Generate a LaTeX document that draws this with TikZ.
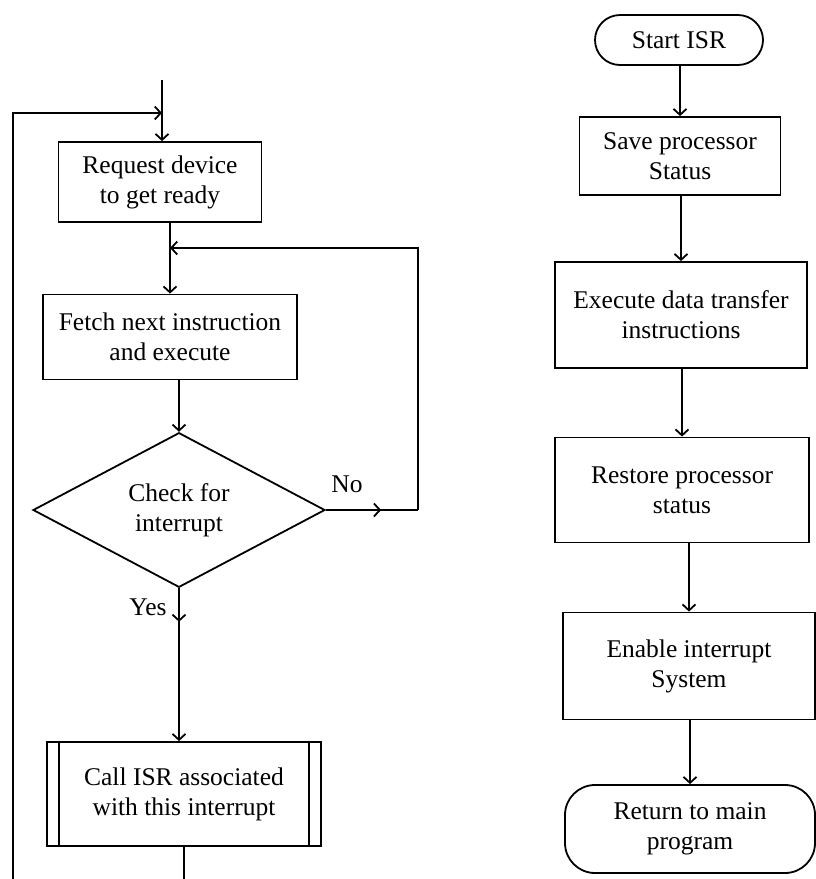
\documentclass[tikz,border=0pt]{standalone}
\usepackage{fontspec}
\setmainfont{Liberation Serif}
\usetikzlibrary{arrows.meta,shapes.geometric,decorations.markings}
\tikzset{
    box/.style={draw, line width=1.8pt, align=center, inner sep=2pt},
    flow/.style={line width=1.8pt, -{Straight Barb[length=6pt,width=13pt]}},
    midflow/.style={line width=1.8pt, postaction={decorate},
        decoration={markings, mark=at position #1 with {\arrow{Straight Barb[length=6pt,width=13pt]}}}},
}
\begin{document}
\begin{tikzpicture}[x=1pt, y=-1pt, font=\fontsize{25.5}{30}\selectfont]
        \useasboundingbox (0,0) rectangle (816,879);
        % polling loop
        \node[box, minimum width=203pt, minimum height=80pt] (req) at (160,182) {Request device\\to get ready};
        \node[box, minimum width=254pt, minimum height=85pt] (fetch) at (170,337) {Fetch next instruction\\and execute};
        \node[box, diamond, minimum width=292pt, minimum height=142pt, inner sep=0pt] (check) at (179,510) {Check for\\interrupt};
        \node[box, minimum width=274pt, minimum height=104pt] (call) at (184,794) {Call ISR associated\\with this interrupt};
        \draw[line width=1.8pt] ([xshift=13pt]call.north west) -- ([xshift=13pt]call.south west)
            ([xshift=-13pt]call.north east) -- ([xshift=-13pt]call.south east);
        \coordinate (entry) at (162,80);
        \coordinate (join) at (162,113);
        \coordinate (loopend) at (13,879);
        \coordinate (exit) at (184,879);
        \coordinate (nocorner) at (418,510);
        \coordinate (back) at (170,248);
        \draw[flow] (entry) -- (entry |- req.north);
        \draw[flow] (loopend) |- (join);
        \draw[flow] (fetch.north |- req.south) -- (fetch.north);
        \draw[flow] (check.north |- fetch.south) -- (check.north);
        \draw[flow, midflow=0.22] (check.south) -- (check.south |- call.north);
        \draw[line width=1.8pt] (call.south) -- (exit);
        \draw[midflow=0.6] (check.east) -- (nocorner);
        \draw[flow] (nocorner) |- (back);
        \node (no) at (347,484) {No};
        \node (yes) at (148,607) {Yes};
        % service routine
        \node[box, rounded corners=25pt, minimum width=168pt, minimum height=50pt] (start) at (679,40) {Start ISR};
        \node[box, minimum width=201pt, minimum height=78pt] (save) at (680,156) {Save processor\\Status};
        \node[box, minimum width=252pt, minimum height=106pt] (exec) at (681,315) {Execute data transfer\\instructions};
        \node[box, minimum width=254pt, minimum height=105pt] (restore) at (682,490) {Restore processor\\status};
        \node[box, minimum width=252pt, minimum height=107pt] (enable) at (689,666) {Enable interrupt\\System};
        \node[box, rounded corners=30pt, minimum width=250pt, minimum height=88pt] (ret) at (690,829) {Return to main\\program};
        \draw[flow] (save.north |- start.south) -- (save.north);
        \draw[flow] (exec.north |- save.south) -- (exec.north);
        \draw[flow] (restore.north |- exec.south) -- (restore.north);
        \draw[flow] (enable.north |- restore.south) -- (enable.north);
        \draw[flow] (ret.north |- enable.south) -- (ret.north);
    \end{tikzpicture}
\end{document}
